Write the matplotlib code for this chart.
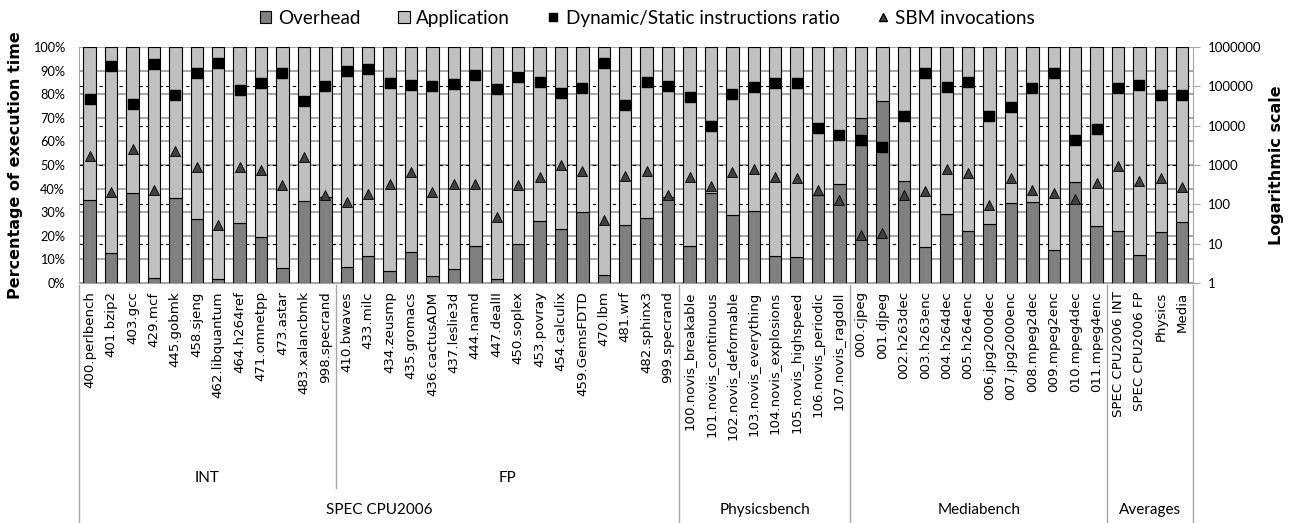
import numpy as np
import matplotlib
matplotlib.use("Agg")
import matplotlib.pyplot as plt
from matplotlib.lines import Line2D
from matplotlib.patches import Patch
import matplotlib.transforms as mtransforms

# ---- data ----
benchmarks = [
    "400.perlbench", "401.bzip2", "403.gcc", "429.mcf", "445.gobmk", "458.sjeng",
    "462.libquantum", "464.h264ref", "471.omnetpp", "473.astar", "483.xalancbmk", "998.specrand",
    "410.bwaves", "433.milc", "434.zeusmp", "435.gromacs", "436.cactusADM", "437.leslie3d",
    "444.namd", "447.dealII", "450.soplex", "453.povray", "454.calculix", "459.GemsFDTD",
    "470.lbm", "481.wrf", "482.sphinx3", "999.specrand",
    "100.novis_breakable", "101.novis_continuous", "102.novis_deformable", "103.novis_everything",
    "104.novis_explosions", "105.novis_highspeed", "106.novis_periodic", "107.novis_ragdoll",
    "000.cjpeg", "001.djpeg", "002.h263dec", "003.h263enc", "004.h264dec", "005.h264enc",
    "006.jpg2000dec", "007.jpg2000enc", "008.mpeg2dec", "009.mpeg2enc", "010.mpeg4dec", "011.mpeg4enc",
    "SPEC CPU2006 INT", "SPEC CPU2006 FP", "Physics", "Media",
]

# overhead share of execution time (%); application = 100 - overhead
overhead = [
    35.0, 12.6, 38.2, 2.1, 36.0, 27.1, 1.7, 25.5, 19.7, 6.4, 34.8, 36.6,
    6.7, 11.6, 5.2, 13.2, 3.1, 6.0, 15.5, 1.7, 16.6, 26.1, 22.7, 30.1, 3.4, 24.5, 27.7, 36.5,
    15.7, 38.3, 28.9, 30.4, 11.5, 11.2, 37.3, 41.8,
    69.8, 77.2, 43.4, 15.2, 29.2, 22.1, 25.0, 33.9, 34.3, 14.0, 42.6, 24.1,
    22.0, 11.9, 21.8, 25.8,
]

# dynamic / static instructions ratio (log scale)
dyn_static_ratio = [
    48000, 333000, 36500, 360000, 61000, 213000, 383000, 81000, 120000, 213000, 43500, 103000,
    240000, 275000, 123000, 107000, 105000, 118000, 200000, 87000, 169000, 132000, 69500, 90000,
    400000, 34000, 126000, 103000,
    54000, 9600, 63000, 95000, 120000, 120000, 8900, 5650,
    4300, 2900, 18000, 213000, 95000, 126000, 18000, 29500, 90000, 213000, 4300, 8200,
    90000, 107000, 59000, 61000,
]

# SBM invocations (log scale)
sbm_invocations = [
    1700, 205, 2530, 228, 2300, 880, 29, 900, 740, 307, 1620, 170,
    112, 180, 338, 670, 205, 324, 338, 49, 307, 500, 1000, 700, 41, 530, 710, 170,
    500, 300, 680, 790, 500, 470, 228, 130,
    17, 19, 173, 224, 815, 630, 94, 455, 228, 199, 139, 350,
    950, 400, 470, 270,
]

# hierarchical category groups: (label, number of bars)
sub_groups = [("INT", 12), ("FP", 16)]
main_groups = [("SPEC CPU2006", 28), ("Physicsbench", 8), ("Mediabench", 12), ("Averages", 4)]

C_OVER = "#808080"
C_APP = "#C0C0C0"
C_TRI = "#404040"

LABEL_FONT = ["Lato", "DejaVu Sans"]

fig = plt.figure(figsize=(12.9, 5.23), dpi=100)
ax = fig.add_axes([0.0612, 0.4589, 0.8636, 0.4512])

x = np.arange(len(benchmarks))
application = [100 - v for v in overhead]

ax.bar(x, overhead, width=0.58, color=C_OVER, edgecolor="black", linewidth=0.8, zorder=3)
ax.bar(x, application, bottom=overhead, width=0.58, color=C_APP, edgecolor="black",
       linewidth=0.8, zorder=3)

ax.set_xlim(-0.5, len(benchmarks) - 0.5)
ax.set_ylim(0, 100)
ax.set_yticks(np.arange(0, 101, 10))
ax.set_yticklabels([f"{v}%" for v in range(0, 101, 10)], fontsize=9.2, family=LABEL_FONT)
ax.yaxis.grid(True, color="#A6A6A6", linewidth=1.4, zorder=0)
ax.set_axisbelow(True)
ax.tick_params(axis="y", length=0, pad=10)
ax.set_xticks(x)
ax.set_xticklabels(benchmarks, rotation=90, fontsize=9.6)
ax.tick_params(axis="x", length=0, pad=6)
for s in ax.spines.values():
    s.set_color("#A6A6A6")
ax.spines["top"].set_visible(False)

ax.set_ylabel("Percentage of execution time", fontsize=11.5, fontweight="bold", labelpad=7)

# secondary log axis
ax2 = ax.twinx()
ax2.set_yscale("log")
ax2.set_ylim(1, 1e6)
ax2.set_yticks([10 ** k for k in range(7)])
ax2.set_yticklabels([str(10 ** k) for k in range(7)], fontsize=9.5, family=LABEL_FONT)
ax2.minorticks_off()
ax2.tick_params(axis="y", length=5, color="#A6A6A6", pad=6)
for s in ax2.spines.values():
    s.set_visible(False)
ax2.set_ylabel("Logarithmic scale", fontsize=11.5, fontweight="bold", labelpad=5)

# dashed decade lines drawn behind the bars (positions taken from the log axis)
for k in range(1, 6):
    frac = k / 6
    ax.axhline(frac * 100, color="black", linestyle=(0, (3, 3)), linewidth=0.8, zorder=1)

ax2.plot(x, dyn_static_ratio, linestyle="none", marker="s", markersize=6.5,
         color="black", zorder=5)
ax2.plot(x, sbm_invocations, linestyle="none", marker="^", markersize=7,
         markerfacecolor=C_TRI, markeredgecolor="black", markeredgewidth=0.6, zorder=5)

# hierarchical category axis
trans = mtransforms.blended_transform_factory(ax.transData, ax.transAxes)
sep_kw = dict(color="#A6A6A6", linewidth=1.0, transform=trans, clip_on=False)

start = -0.5
for label, n in main_groups:
    ax.plot([start, start], [-0.01, -1.015], **sep_kw)
    ax.text(start + n / 2, -0.962, label, transform=trans, ha="center", va="center",
            fontsize=11, family=LABEL_FONT)
    start += n
ax.plot([start, start], [-0.01, -1.015], **sep_kw)

start = -0.5
for i, (label, n) in enumerate(sub_groups):
    if i > 0:
        ax.plot([start, start], [-0.01, -0.87], **sep_kw)
    ax.text(start + n / 2, -0.826, label, transform=trans, ha="center", va="center",
            fontsize=11, family=LABEL_FONT)
    start += n

# legend
handles = [
    Patch(facecolor=C_OVER, edgecolor="black", linewidth=0.8, label="Overhead"),
    Patch(facecolor=C_APP, edgecolor="black", linewidth=0.8, label="Application"),
    Line2D([], [], linestyle="none", marker="s", markersize=5.5, color="black",
           label="Dynamic/Static instructions ratio"),
    Line2D([], [], linestyle="none", marker="^", markersize=6, markerfacecolor=C_TRI,
           markeredgecolor="black", label="SBM invocations"),
]
fig.legend(handles=handles, loc="center", bbox_to_anchor=(0.502, 0.965), ncol=4,
           frameon=False, prop={"family": LABEL_FONT, "size": 13.6}, handlelength=0.6,
           handleheight=0.6, handletextpad=0.35, columnspacing=2.0)

fig.savefig("out.png", dpi=100)
